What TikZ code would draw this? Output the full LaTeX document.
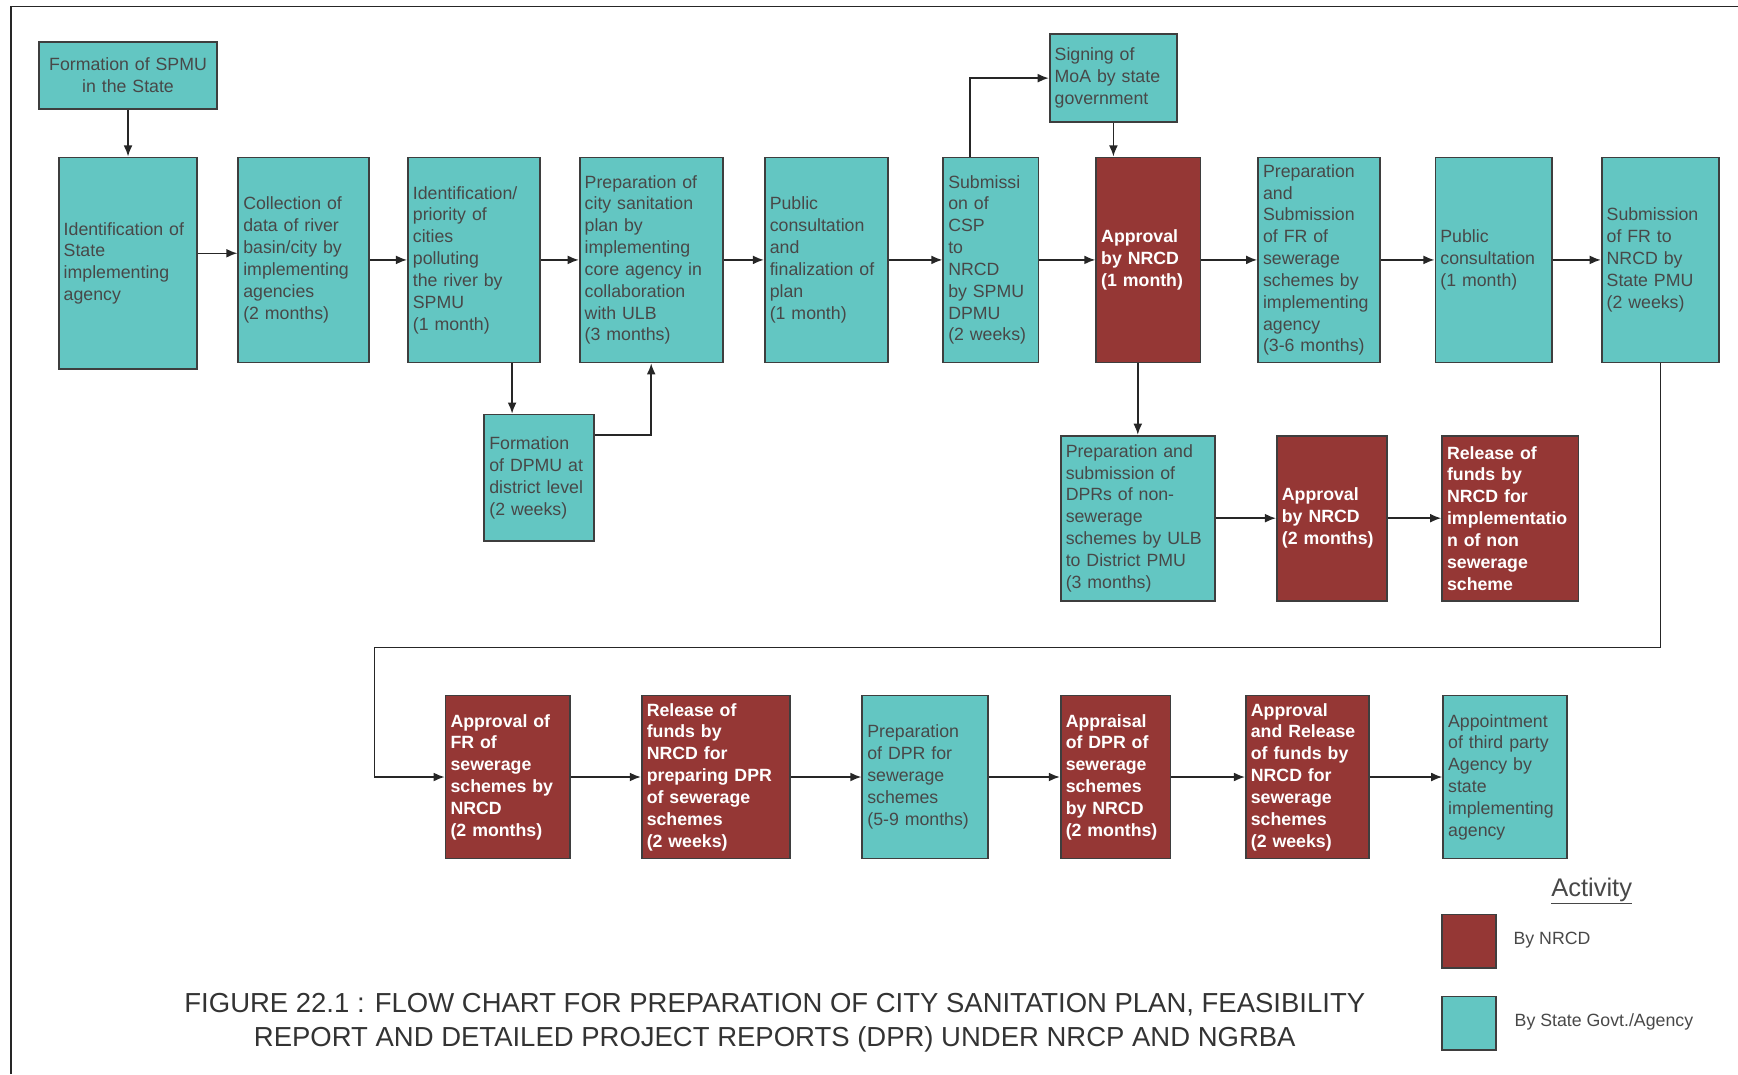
\documentclass[tikz,border=0pt]{standalone}
\usepackage{fontspec}
\setmainfont{Liberation Sans}
\usetikzlibrary{arrows.meta}

\definecolor{stategreen}{RGB}{99,198,194}
\definecolor{nrcdred}{RGB}{149,55,53}
\definecolor{edgegrey}{RGB}{62,62,62}
\definecolor{textgrey}{RGB}{72,72,72}
\newcommand\boxfont{\fontsize{16}{19.7}\selectfont}

\begin{document}
\begin{tikzpicture}[
    x=1pt, y=-1pt,
    box/.style={rectangle, draw=edgegrey, line width=1.6pt, inner xsep=4.5pt, inner ysep=2pt, align=left, font=\boxfont},
    dims/.style 2 args={minimum width=#1pt, minimum height=#2pt, text width=#1pt-9pt},
    state/.style={box, fill=stategreen, text=textgrey},
    nrcd/.style={box, fill=nrcdred, text=white, font=\boxfont\bfseries},
    link/.style={draw=black!85, line width=1.4pt, -{Latex[length=10pt,width=8pt]}}
]
\useasboundingbox (0,0) rectangle (1568,969);
\draw[line width=1.4pt, black!85] (10,969) -- (10,6) -- (1568,6);

% top row
\node[state, dims={161}{60}, align=center] (spmu) at (115.5,68) {Formation of SPMU\\in the State};
\node[state, dims={115}{79}] (moa) at (1004.5,70.5) {Signing of\\MoA by state\\government};

% main row
\node[state, dims={125}{191}] (b1) at (115.5,237.5) {Identification of\\State\\implementing\\agency};
\node[state, dims={118}{185}] (b2) at (274,234.5) {Collection of\\data of river\\basin/city by\\implementing\\agencies\\(2 months)};
\node[state, dims={119}{185}] (b3) at (427.5,234.5) {Identification/\\priority of\\cities\\polluting\\the river by\\SPMU\\(1 month)};
\node[state, dims={129}{185}] (b4) at (587.5,234.5) {Preparation of\\city sanitation\\plan by\\implementing\\core agency in\\collaboration\\with ULB\\(3 months)};
\node[state, dims={111}{185}] (b5) at (745.5,234.5) {Public\\consultation\\and\\finalization of\\plan\\(1 month)};
\node[state, dims={86}{185}] (b6) at (894,234.5) {Submissi\\on of\\CSP\\to\\NRCD\\by SPMU\\DPMU\\(2 weeks)};
\node[nrcd, dims={94}{185}] (b7) at (1036,234.5) {Approval\\by NRCD\\(1 month)};
\node[state, dims={110}{185}] (b8) at (1190,234.5) {Preparation\\and\\Submission\\of FR of\\sewerage\\schemes by\\implementing\\agency\\(3-6 months)};
\node[state, dims={105}{185}] (b9) at (1347.5,234.5) {Public\\consultation\\(1 month)};
\node[state, dims={106}{185}] (b10) at (1498,234.5) {Submission\\of FR to\\NRCD by\\State PMU\\(2 weeks)};

% side branches
\node[state, dims={99}{114}] (dpmu) at (486.5,431) {Formation\\of DPMU at\\district level\\(2 weeks)};
\node[state, dims={139}{149}] (dpr) at (1026.5,467.5) {Preparation and\\submission of\\DPRs of non-\\sewerage\\schemes by ULB\\to District PMU\\(3 months)};
\node[nrcd, dims={99}{149}] (appr2) at (1201.5,467.5) {Approval\\by NRCD\\(2 months)};
\node[nrcd, dims={123}{149}] (rel2) at (1362.5,467.5) {Release of\\funds by\\NRCD for\\implementatio\\n of non\\sewerage\\scheme};

% bottom row
\node[nrcd, dims={112}{147}] (afr) at (458,701) {Approval of\\FR of\\sewerage\\schemes by\\NRCD\\(2 months)};
\node[nrcd, dims={134}{147}] (rdpr) at (646,701) {Release of\\funds by\\NRCD for\\preparing DPR\\of sewerage\\schemes\\(2 weeks)};
\node[state, dims={113}{147}] (pdpr) at (834.5,701) {Preparation\\of DPR for\\sewerage\\schemes\\(5-9 months)};
\node[nrcd, dims={99}{147}] (appr) at (1006.5,701) {Appraisal\\of DPR of\\sewerage\\schemes\\by NRCD\\(2 months)};
\node[nrcd, dims={111}{147}] (arel) at (1179.5,701) {Approval\\and Release\\of funds by\\NRCD for\\sewerage\\schemes\\(2 weeks)};
\node[state, dims={112}{147}] (tpa) at (1358,701) {Appointment\\of third party\\Agency by\\state\\implementing\\agency};

% legend
\node[font=\fontsize{23}{27}\selectfont, text=textgrey] (act) at (1436,804) {\underline{Activity}};
\node[box, fill=nrcdred, minimum width=49pt, minimum height=48pt] (keynrcd) at (1325.5,849) {};
\node[box, fill=stategreen, minimum width=49pt, minimum height=48pt] (keystate) at (1325.5,923) {};
\node[anchor=west, font=\fontsize{16}{19}\selectfont, text=textgrey] (lblnrcd) at (1362,848) {By NRCD};
\node[anchor=west, font=\fontsize{16}{19}\selectfont, text=textgrey] (lblstate) at (1363,922) {By State Govt./Agency};

\node[align=center, font=\fontsize{24.8}{30.5}\selectfont, text=black!80] (title) at (699,923)
  {FIGURE 22.1 : FLOW CHART FOR PREPARATION OF CITY SANITATION PLAN, FEASIBILITY\\REPORT AND DETAILED PROJECT REPORTS (DPR) UNDER NRCP AND NGRBA};

% connectors
\coordinate (turn) at (338,584);
\draw[link] (spmu) -- (b1);
\draw[link] ([yshift=6pt]b1.east |- b2.west) -- ([yshift=6pt]b2.west);
\foreach \a/\b in {b2/b3,b3/b4,b4/b5,b5/b6,b6/b7,b7/b8,b8/b9,b9/b10}
    \draw[link] (\a) -- (\b);
\draw[link] ([xshift=34.5pt]b3.south) -- ([xshift=34.5pt]b3.south |- dpmu.north);
\draw[link] ([yshift=-19pt]dpmu.north east) -| (b4.south);
\draw[link] ([xshift=-19pt]b6.north) |- (moa.west);
\draw[link] (moa.south) -- (moa.south |- b7.north);
\draw[link] (b7.south -| dpr.north) -- (dpr.north);
\foreach \a/\b in {dpr/appr2,appr2/rel2}
    \draw[link] (\a) -- (\b);
\draw[link] (b10.south) |- (turn) |- (afr.west);
\foreach \a/\b in {afr/rdpr,rdpr/pdpr,pdpr/appr,appr/arel,arel/tpa}
    \draw[link] (\a) -- (\b);
\end{tikzpicture}
\end{document}
